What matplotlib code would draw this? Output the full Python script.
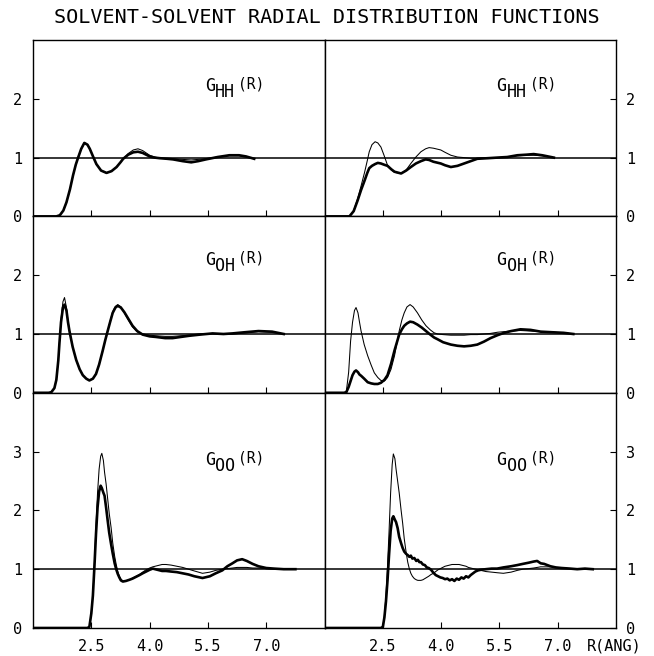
import matplotlib.pyplot as plt

plt.rcParams['font.family'] = ['DejaVu Sans Mono']

# ---------------- data ----------------
title = "SOLVENT-SOLVENT RADIAL DISTRIBUTION FUNCTIONS"
xticks = [2.5, 4.0, 5.5, 7.0]
xtick_labels = ["2.5", "4.0", "5.5", "7.0"]

# G_HH, left column
r_hh_l = [1.0, 1.6, 1.69, 1.78, 1.86, 1.95, 2.03, 2.10, 2.16, 2.24,
          2.32, 2.40, 2.46, 2.55, 2.63, 2.75, 2.89, 3.02, 3.15, 3.25,
          3.32, 3.45, 3.58, 3.70, 3.82, 4.0, 4.13, 4.26, 4.45, 4.6,
          4.85, 5.07, 5.25, 5.45, 5.75, 6.05, 6.3, 6.48, 6.69]
g_hh_l_thin = [0, 0, 0.02, 0.10, 0.24, 0.46, 0.70, 0.88, 1.0, 1.15,
               1.25, 1.22, 1.15, 1.01, 0.89, 0.78, 0.74, 0.77, 0.84, 0.92,
               0.98, 1.07, 1.13, 1.15, 1.12, 1.04, 1.01, 0.99, 0.98, 0.98,
               0.97, 0.96, 0.97, 0.98, 1.01, 1.03, 1.03, 1.01, 0.98]
g_hh_l_thick = [0, 0, 0.02, 0.10, 0.24, 0.46, 0.70, 0.88, 1.0, 1.15,
                1.25, 1.22, 1.15, 1.01, 0.89, 0.78, 0.74, 0.77, 0.84, 0.92,
                0.98, 1.05, 1.09, 1.10, 1.08, 1.02, 1.0, 0.99, 0.98, 0.97,
                0.94, 0.92, 0.94, 0.97, 1.01, 1.04, 1.04, 1.02, 0.98]

# G_HH, right column
r_hh_r = [1.0, 1.55, 1.64, 1.75, 1.85, 1.94, 2.03, 2.10, 2.15, 2.22,
          2.30, 2.37, 2.45, 2.53, 2.62, 2.72, 2.80, 2.97, 3.10, 3.22,
          3.35, 3.48, 3.60, 3.69, 3.80, 3.99, 4.10, 4.25, 4.42, 4.59,
          4.76, 4.93, 5.2, 5.44, 5.7, 5.96, 6.2, 6.38, 6.6, 6.9]
g_hh_r_thin = [0, 0, 0, 0.10, 0.30, 0.52, 0.75, 0.95, 1.10, 1.22,
               1.27, 1.25, 1.18, 1.04, 0.87, 0.79, 0.75, 0.73, 0.79, 0.90,
               1.01, 1.10, 1.15, 1.17, 1.16, 1.13, 1.09, 1.04, 1.01, 1.0,
               0.99, 0.99, 1.0, 1.0, 1.01, 1.03, 1.04, 1.04, 1.03, 1.0]
g_hh_r_thick = [0, 0, 0, 0.09, 0.27, 0.45, 0.61, 0.74, 0.82, 0.86,
                0.89, 0.91, 0.90, 0.88, 0.86, 0.80, 0.76, 0.73, 0.78, 0.84,
                0.90, 0.94, 0.97, 0.96, 0.93, 0.90, 0.87, 0.84, 0.86, 0.90,
                0.94, 0.98, 0.99, 1.0, 1.01, 1.04, 1.05, 1.06, 1.04, 1.0]

# G_OH, left column
r_oh_l = [1.0, 1.40, 1.47, 1.55, 1.60, 1.65, 1.68, 1.72, 1.77, 1.81,
          1.86, 1.90, 1.94, 2.02, 2.11, 2.20, 2.28, 2.37, 2.45, 2.54,
          2.62, 2.70, 2.79, 2.86, 2.92, 2.99, 3.05, 3.12, 3.18, 3.26,
          3.35, 3.45, 3.56, 3.68, 3.82, 4.0, 4.16, 4.4, 4.59, 4.8,
          5.02, 5.3, 5.62, 5.9, 6.13, 6.45, 6.8, 7.15, 7.45]
g_oh_l_thin = [0, 0, 0.01, 0.08, 0.22, 0.55, 0.85, 1.25, 1.55, 1.62,
               1.45, 1.22, 1.05, 0.78, 0.56, 0.40, 0.30, 0.24, 0.21, 0.24,
               0.32, 0.48, 0.71, 0.90, 1.05, 1.23, 1.38, 1.47, 1.50, 1.46,
               1.36, 1.24, 1.12, 1.04, 1.0, 0.98, 0.97, 0.96, 0.96, 0.97,
               0.98, 1.0, 1.01, 1.0, 1.0, 1.02, 1.04, 1.03, 1.0]
g_oh_l_thick = [0, 0, 0.01, 0.08, 0.22, 0.55, 0.85, 1.2, 1.45, 1.50,
                1.40, 1.20, 1.04, 0.78, 0.56, 0.40, 0.30, 0.24, 0.21, 0.24,
                0.32, 0.48, 0.71, 0.90, 1.05, 1.22, 1.36, 1.45, 1.48, 1.45,
                1.37, 1.26, 1.14, 1.05, 0.99, 0.96, 0.95, 0.93, 0.93, 0.95,
                0.97, 0.99, 1.01, 1.0, 1.01, 1.03, 1.05, 1.04, 1.0]

# G_OH, right column
r_oh_r = [1.0, 1.50, 1.56, 1.62, 1.67, 1.72, 1.77, 1.81, 1.86, 1.90,
          1.94, 2.02, 2.11, 2.20, 2.28, 2.37, 2.45, 2.54, 2.62, 2.71,
          2.80, 2.92, 2.99, 3.05, 3.12, 3.20, 3.28, 3.39, 3.50, 3.61,
          3.72, 3.82, 3.91, 4.05, 4.25, 4.42, 4.59, 4.76, 4.93, 5.1,
          5.27, 5.45, 5.62, 5.8, 6.04, 6.3, 6.56, 6.85, 7.15, 7.4]
g_oh_r_thin = [0, 0, 0.02, 0.35, 0.88, 1.20, 1.40, 1.45, 1.36, 1.20,
               1.05, 0.82, 0.63, 0.47, 0.34, 0.26, 0.21, 0.20, 0.26, 0.40,
               0.63, 1.05, 1.24, 1.36, 1.46, 1.50, 1.46, 1.36, 1.24, 1.14,
               1.07, 1.02, 1.0, 0.99, 0.98, 0.98, 0.98, 0.99, 0.99, 1.0,
               1.01, 1.03, 1.04, 1.05, 1.06, 1.05, 1.04, 1.03, 1.02, 1.0]
g_oh_r_thick = [0, 0, 0.01, 0.10, 0.20, 0.30, 0.36, 0.38, 0.35, 0.31,
                0.29, 0.24, 0.18, 0.16, 0.15, 0.15, 0.17, 0.22, 0.30, 0.49,
                0.72, 0.99, 1.08, 1.14, 1.18, 1.21, 1.20, 1.16, 1.11, 1.05,
                0.99, 0.94, 0.91, 0.86, 0.82, 0.80, 0.79, 0.80, 0.82, 0.87,
                0.93, 0.98, 1.02, 1.05, 1.08, 1.07, 1.04, 1.03, 1.02, 1.0]

# G_OO, left column
r_oo_l = [1.0, 2.40, 2.45, 2.50, 2.54, 2.58, 2.62, 2.66, 2.70, 2.74,
          2.77, 2.81, 2.84, 2.88, 2.92, 2.96, 3.01, 3.05, 3.10, 3.14,
          3.18, 3.22, 3.26, 3.31, 3.39, 3.48, 3.56, 3.65, 3.74, 3.82,
          3.91, 4.0, 4.08, 4.2, 4.32, 4.42, 4.55, 4.7, 4.85, 5.0,
          5.15, 5.36, 5.55, 5.7, 5.87, 6.0, 6.13, 6.25, 6.38, 6.5,
          6.65, 6.8, 7.0, 7.2, 7.45, 7.75]
g_oo_l_thin = [0, 0, 0.02, 0.25, 0.55, 1.10, 1.75, 2.30, 2.70, 2.92,
               2.97, 2.85, 2.65, 2.45, 2.20, 1.95, 1.70, 1.45, 1.22, 1.08,
               0.96, 0.88, 0.83, 0.80, 0.80, 0.82, 0.85, 0.88, 0.91, 0.95,
               0.99, 1.02, 1.04, 1.06, 1.08, 1.08, 1.07, 1.05, 1.03, 1.0,
               0.97, 0.93, 0.95, 0.98, 1.0, 1.01, 1.02, 1.03, 1.03, 1.03,
               1.02, 1.02, 1.01, 1.0, 1.0, 1.0]
g_oo_l_thick = [0, 0, 0.02, 0.25, 0.55, 1.05, 1.60, 2.05, 2.32, 2.42,
                2.38, 2.30, 2.25, 2.05, 1.83, 1.62, 1.42, 1.27, 1.10, 1.00,
                0.92, 0.86, 0.81, 0.79, 0.80, 0.82, 0.84, 0.87, 0.90, 0.93,
                0.96, 0.99, 1.01, 0.99, 0.97, 0.97, 0.96, 0.95, 0.93, 0.91,
                0.88, 0.85, 0.88, 0.93, 0.98, 1.05, 1.10, 1.15, 1.17, 1.14,
                1.09, 1.05, 1.02, 1.01, 1.0, 1.0]

# G_OO, right column
r_oo_r = [1.0, 2.45, 2.50, 2.54, 2.58, 2.62, 2.66, 2.70, 2.74, 2.77,
          2.81, 2.84, 2.88, 2.92, 2.97, 3.01, 3.05, 3.10, 3.14, 3.18,
          3.22, 3.26, 3.31, 3.36, 3.40, 3.44, 3.48, 3.53, 3.58, 3.63,
          3.68, 3.74, 3.80, 3.86, 3.92, 3.98, 4.04, 4.10, 4.16, 4.22,
          4.28, 4.34, 4.40, 4.46, 4.52, 4.58, 4.64, 4.70, 4.76, 4.82,
          4.88, 4.95, 5.02, 5.15, 5.30, 5.44, 5.6, 5.8, 5.96, 6.1,
          6.25, 6.38, 6.47, 6.56, 6.65, 6.81, 6.95, 7.1, 7.32, 7.5,
          7.7, 7.9]
g_oo_r_thin = [0, 0, 0.02, 0.20, 0.55, 1.05, 1.65, 2.30, 2.78, 2.96,
               2.88, 2.70, 2.50, 2.30, 2.00, 1.78, 1.52, 1.28, 1.12, 1.01,
               0.93, 0.88, 0.84, 0.82, 0.81, 0.81, 0.81, 0.82, 0.84, 0.86,
               0.88, 0.91, 0.93, 0.96, 0.99, 1.01, 1.03, 1.05, 1.06, 1.07,
               1.08, 1.08, 1.08, 1.08, 1.07, 1.06, 1.05, 1.03, 1.02, 1.01,
               1.0, 0.99, 0.98, 0.96, 0.95, 0.94, 0.93, 0.95, 0.98, 1.0,
               1.01, 1.02, 1.03, 1.04, 1.04, 1.04, 1.03, 1.02, 1.01, 1.0,
               1.0, 1.0]
g_oo_r_thick = [0, 0, 0.02, 0.18, 0.45, 0.81, 1.25, 1.65, 1.86, 1.90,
                1.84, 1.80, 1.70, 1.55, 1.44, 1.36, 1.30, 1.26, 1.24, 1.21,
                1.23, 1.18, 1.19, 1.14, 1.16, 1.12, 1.12, 1.08, 1.07, 1.03,
                1.02, 0.99, 0.94, 0.90, 0.88, 0.86, 0.85, 0.83, 0.84, 0.81,
                0.83, 0.80, 0.84, 0.82, 0.86, 0.84, 0.88, 0.86, 0.90, 0.93,
                0.96, 0.98, 0.99, 1.0, 1.01, 1.01, 1.03, 1.05, 1.07, 1.09,
                1.11, 1.13, 1.14, 1.10, 1.09, 1.05, 1.03, 1.02, 1.01, 1.0,
                1.01, 1.0]

panels = [
    ("HH", r_hh_l, g_hh_l_thin, g_hh_l_thick, r_hh_r, g_hh_r_thin, g_hh_r_thick, 3, [0, 1, 2], 2.22),
    ("OH", r_oh_l, g_oh_l_thin, g_oh_l_thick, r_oh_r, g_oh_r_thin, g_oh_r_thick, 3, [0, 1, 2], 2.26),
    ("OO", r_oo_l, g_oo_l_thin, g_oo_l_thick, r_oo_r, g_oo_r_thin, g_oo_r_thick, 4, [0, 1, 2, 3], 2.86),
]

# ---------------- figure ----------------
fig = plt.figure(figsize=(6.54, 6.56), dpi=100)
gs = fig.add_gridspec(3, 2, left=0.0505, right=0.942, top=0.939, bottom=0.0427,
                      height_ratios=[3, 3, 4], hspace=0, wspace=0)


def label(ax, sub, y):
    # G, subscript pair, then "(R)" raised
    ax.text(5.42, y, "G", fontsize=12, ha="left", va="center")
    ax.annotate(sub, (5.42, y), xytext=(7.5, -4.5), textcoords="offset points",
                fontsize=12, ha="left", va="center")
    ax.annotate("(R)", (5.42, y), xytext=(24, 1.5), textcoords="offset points",
                fontsize=10.5, ha="left", va="center")


for row, (name, rl, tl, kl, rr, tr, kr, ytop, yt, ly) in enumerate(panels):
    for col in range(2):
        ax = fig.add_subplot(gs[row, col])
        r, thin, thick = (rl, tl, kl) if col == 0 else (rr, tr, kr)
        ax.axhline(1.0, color="black", lw=1.1)
        ax.plot(r, thin, color="black", lw=0.75)
        ax.plot(r, thick, color="black", lw=1.9)
        ax.set_xlim(1.0, 8.5)
        ax.set_ylim(0, ytop)
        ax.set_xticks(xticks)
        ax.set_yticks(yt)
        ax.tick_params(direction="in", length=4, width=0.8, labelsize=11, pad=8)
        if row == 2:
            ax.set_xticklabels(xtick_labels)
        else:
            ax.set_xticklabels([])
        if col == 1:
            ax.yaxis.tick_right()
            ax.tick_params(axis="y", pad=7)
        for s in ax.spines.values():
            s.set_linewidth(1.0)
        label(ax, name, ly)

fig.text(0.5, 0.974, title, ha="center", va="center", fontsize=14.5)
fig.text(0.897, 0.015, "R(ANG)", ha="left", va="center", fontsize=11)

plt.savefig("out.png", dpi=100)
